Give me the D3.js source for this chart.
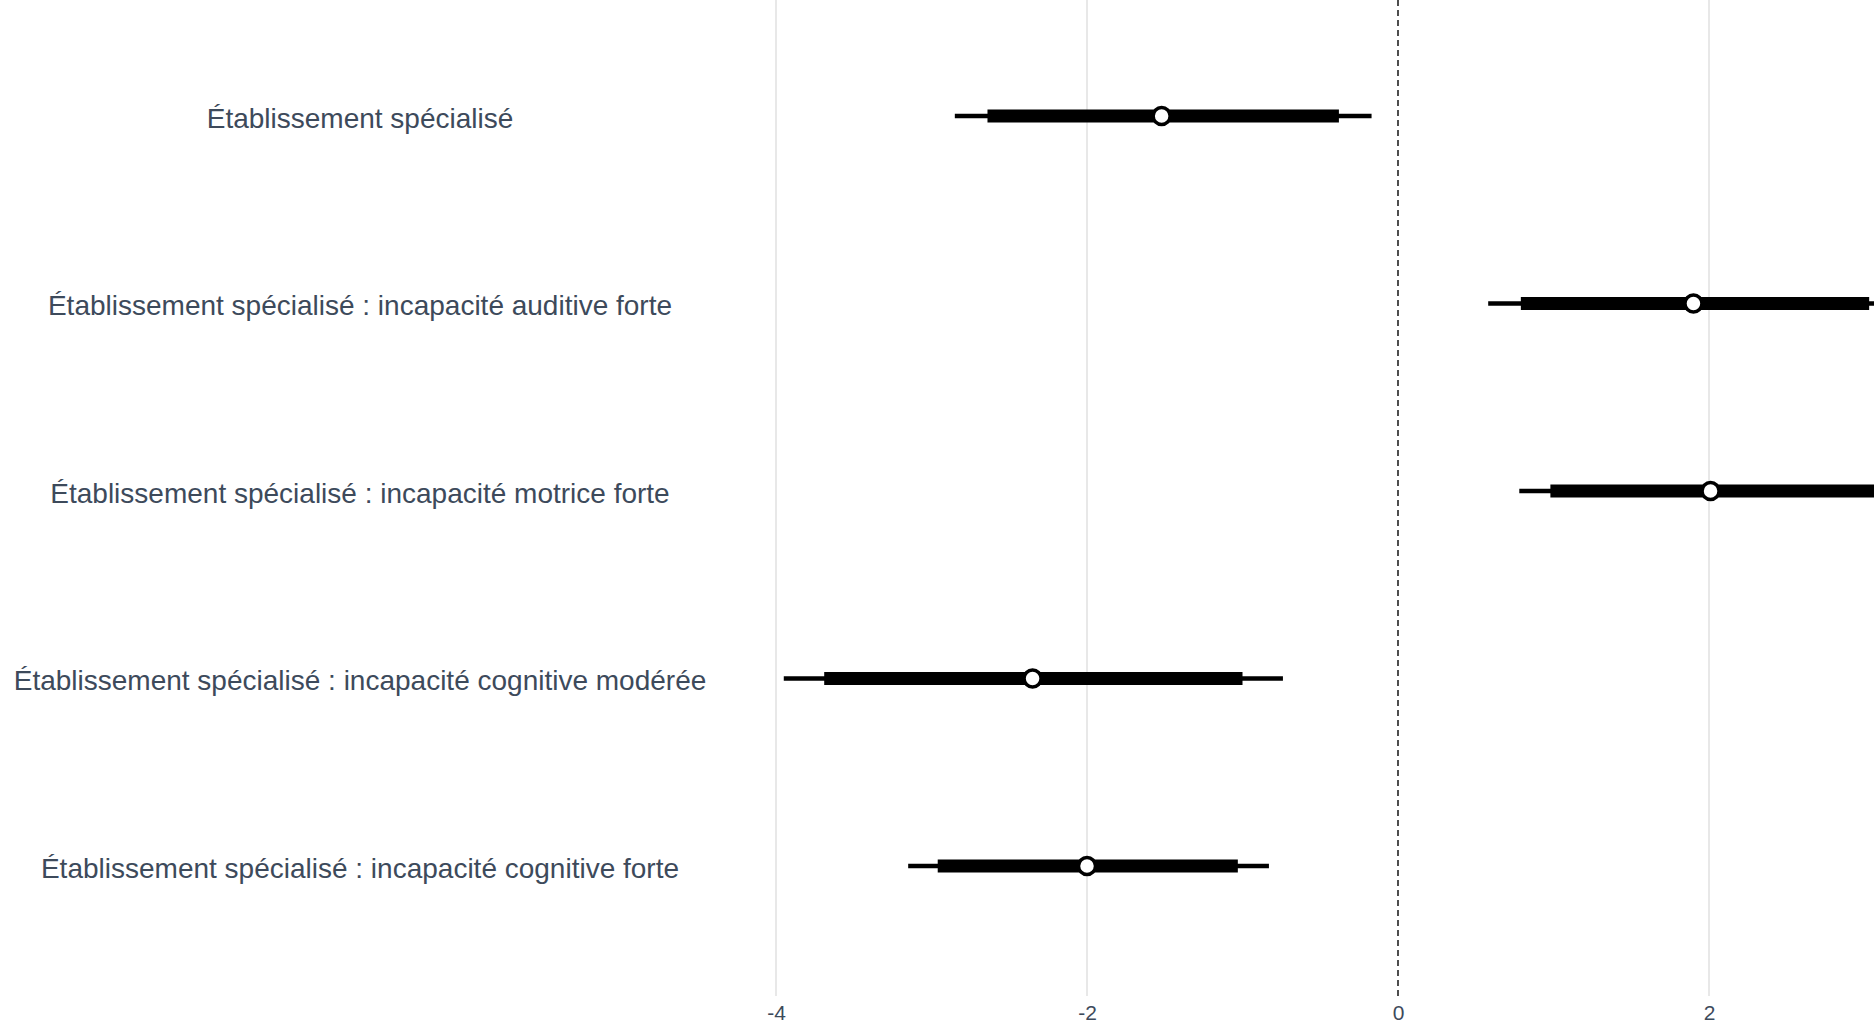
<!DOCTYPE html>
<html>
<head>
<meta charset="utf-8">
<script src="https://cdn.jsdelivr.net/npm/d3@7"></script>
<style>
  html, body { margin: 0; padding: 0; background: #fff; overflow: hidden; }
  svg { display: block; }
</style>
</head>
<body>
<div id="host"><svg></svg></div>
<script>
const WIDTH = 1874;
const HEIGHT = 1026;

const TEXT = "#3d4a5b";
const GRID = "#e3e3e3";

// coefficient plot: point estimate, inner (thick) and outer (thin) intervals
const categories = [
  "Établissement spécialisé",
  "Établissement spécialisé : incapacité auditive forte",
  "Établissement spécialisé : incapacité motrice forte",
  "Établissement spécialisé : incapacité cognitive modérée",
  "Établissement spécialisé : incapacité cognitive forte",
];
const estimate = [-1.52, 1.9, 2.01, -2.35, -2.0];
const innerLow = [-2.64, 0.79, 0.98, -3.69, -2.96];
const innerHigh = [-0.38, 3.03, 3.6, -1.0, -1.03];
const outerLow = [-2.85, 0.58, 0.78, -3.95, -3.15];
const outerHigh = [-0.17, 3.3, 3.9, -0.74, -0.83];
const ticks = [-4, -2, 0, 2];

const rows = categories.map((c, i) => ({
  name: c,
  est: estimate[i],
  lo1: innerLow[i],
  hi1: innerHigh[i],
  lo2: outerLow[i],
  hi2: outerHigh[i],
}));

const svg = d3.select("#host svg").attr("width", WIDTH).attr("height", HEIGHT);

const x = d3.scaleLinear().domain([-4, 3]).range([776, 1864.5]);
const y = d3.scalePoint().domain(categories).range([116, 866]);

svg.append("defs").append("clipPath").attr("id", "panel")
  .append("rect").attr("x", 0).attr("y", 0).attr("width", WIDTH).attr("height", HEIGHT);

// grid
svg.append("g")
  .selectAll("line")
  .data(ticks.filter((t) => t !== 0))
  .join("line")
  .attr("x1", (d) => x(d))
  .attr("x2", (d) => x(d))
  .attr("y1", 0)
  .attr("y2", 996)
  .attr("stroke", GRID)
  .attr("stroke-width", 1.6);

// zero reference
svg.append("line")
  .attr("x1", x(0))
  .attr("x2", x(0))
  .attr("y1", 0)
  .attr("y2", 996)
  .attr("stroke", "#222")
  .attr("stroke-width", 1.6)
  .attr("stroke-dasharray", "6,4");

// tick labels
const axis = d3.axisBottom(x).tickValues(ticks).tickSize(0).tickPadding(0)
  .tickFormat((d) => d3.format("d")(d).replace("−", "-"));
const ax = svg.append("g").attr("transform", "translate(0,1002)").call(axis);
ax.select(".domain").remove();
ax.selectAll("text")
  .attr("fill", TEXT)
  .attr("font-family", "Liberation Sans, Arial, sans-serif")
  .attr("font-size", 21)
  .attr("dy", "0.85em");

// category labels
svg.append("g")
  .selectAll("text")
  .data(categories)
  .join("text")
  .attr("x", 360)
  .attr("y", (d) => y(d) + 2)
  .attr("dy", "0.35em")
  .attr("text-anchor", "middle")
  .attr("fill", TEXT)
  .attr("font-family", "Liberation Sans, Arial, sans-serif")
  .attr("font-size", 28)
  .text((d) => d);

const marks = svg.append("g").attr("clip-path", "url(#panel)");

marks.selectAll("line.outer")
  .data(rows)
  .join("line")
  .attr("class", "outer")
  .attr("x1", (d) => x(d.lo2))
  .attr("x2", (d) => x(d.hi2))
  .attr("y1", (d) => y(d.name))
  .attr("y2", (d) => y(d.name))
  .attr("stroke", "#000")
  .attr("stroke-width", 4.5);

marks.selectAll("line.inner")
  .data(rows)
  .join("line")
  .attr("class", "inner")
  .attr("x1", (d) => x(d.lo1))
  .attr("x2", (d) => x(d.hi1))
  .attr("y1", (d) => y(d.name))
  .attr("y2", (d) => y(d.name))
  .attr("stroke", "#000")
  .attr("stroke-width", 13);

marks.selectAll("circle")
  .data(rows)
  .join("circle")
  .attr("cx", (d) => x(d.est))
  .attr("cy", (d) => y(d.name))
  .attr("r", 8.5)
  .attr("fill", "#fff")
  .attr("stroke", "#000")
  .attr("stroke-width", 3.5);
</script>
</body>
</html>
